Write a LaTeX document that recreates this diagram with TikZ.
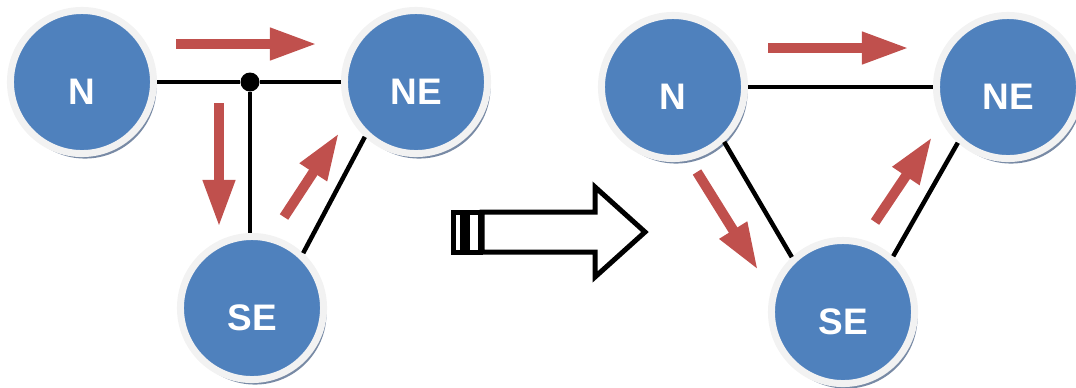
\documentclass[tikz,border=0pt]{standalone}
\usepackage{fontspec}
\setmainfont{Liberation Sans}
\usepackage{tikz}
\usetikzlibrary{arrows.meta,shadows}
\definecolor{nodeblue}{RGB}{79,129,189}
\definecolor{ringgray}{RGB}{242,242,242}
\definecolor{flowred}{RGB}{192,80,77}
\definecolor{shadowblue}{RGB}{105,125,155}

\begin{document}
\begin{tikzpicture}[x=0.01cm,y=-0.01cm,
    station/.style={circle,fill=nodeblue,draw=ringgray,line width=0.07cm,minimum size=1.43cm,
      inner sep=0,text=white,font=\fontsize{10.5}{12}\selectfont\bfseries,text height=0.45cm,text depth=0,
      drop shadow={shadow xshift=0.03cm,shadow yshift=-0.05cm,fill=shadowblue,opacity=0.9}},
    link/.style={line width=0.045cm},
    flow/.style={flowred,line width=0.1cm,-{Triangle[length=0.47cm,width=0.3cm]}}]
    \useasboundingbox (0,0) rectangle (1076,387);
    \node[station] (n1) at (82,82) {N};
    \node[station] (ne1) at (416,82) {NE};
    \node[station] (se1) at (252,308) {SE};
    \node[circle,fill=black,inner sep=0,minimum size=0.19cm] (jct) at (250,82) {};
    \draw[link] (n1) -- (jct);
    \draw[link] (jct) -- (ne1);
    \draw[link] (jct) -- (jct |- se1.north);
    \draw[link] (ne1.227) -- (se1.47);
    \draw[flow] (176,44) -- (317,44);
    \draw[flow] (219,103) -- (219,227);
    \draw[flow] (284,217) -- (339,133);

    \draw[line width=0.05cm,line join=miter] (482,212) -- (595,212) -- (595,187) -- (645,232) -- (595,277) -- (595,252) -- (482,252) -- cycle;
    \draw[line width=0.05cm] (453,212) rectangle (462,252);
    \draw[line width=0.05cm] (467,212) rectangle (480,252);

    \node[station] (n2) at (673,87) {N};
    \node[station] (ne2) at (1008,87) {NE};
    \node[station] (se2) at (843,312) {SE};
    \draw[link] (n2) -- (ne2);
    \draw[link] (n2.313) -- (se2.133);
    \draw[link] (ne2.228) -- (se2.48);
    \draw[flow] (768,48) -- (909,48);
    \draw[flow] (697,172) -- (758,270);
    \draw[flow] (875,222) -- (932,137);
\end{tikzpicture}
\end{document}
